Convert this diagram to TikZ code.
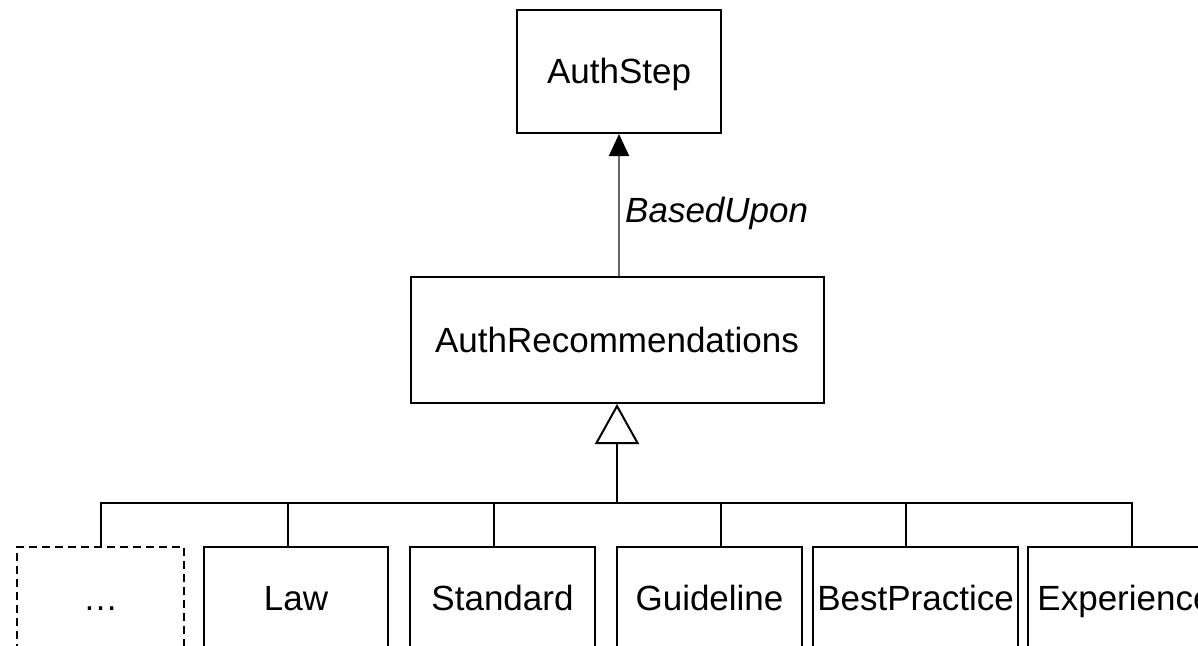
\documentclass[tikz,border=0pt]{standalone}
\usepackage{fontspec}
\setmainfont{Liberation Sans}
\usetikzlibrary{arrows.meta}
\begin{document}
\begin{tikzpicture}[x=1pt,y=-1pt,
  cls/.style={draw, line width=2pt, inner sep=0pt,
    font=\fontsize{35}{42}\selectfont, text height=26pt, text depth=2pt},
  sub/.style={cls, minimum height=102pt},
  link/.style={line width=2pt, line cap=rect}]
\clip (0,0) rectangle (1198,645);
\fill[white] (0,0) rectangle (1198,645);

% classes
\node[cls, minimum width=204pt, minimum height=123pt] (step) at (619,71.5) {AuthStep};
\node[cls, minimum width=413pt, minimum height=126pt] (rec) at (617,340) {AuthRecommendations};

% association
\node[inner sep=0pt, anchor=west, font=\fontsize{35}{42}\selectfont\itshape,
  text height=26pt, text depth=2pt] (lbl) at (625,210) {BasedUpon};
\draw[line width=2pt, black!60, -{Triangle[length=22pt,width=20pt,black]}]
  (rec.north -| step.south) -- (step.south);

% subclasses
\node[sub, dashed, dash pattern=on 8pt off 5pt, minimum width=167pt] (more) at (100.5,598) {\ldots};
\node[sub, minimum width=184pt] (law) at (296,598) {Law};
\node[sub, minimum width=185pt] (std) at (502.5,598) {Standard};
\node[sub, minimum width=185pt] (guide) at (709.5,598) {Guideline};
\node[sub, minimum width=205pt] (best) at (915.5,598) {BestPractice};
\node[sub, minimum width=195pt] (exp) at (1125,598) {Experience};

% generalization tree
\coordinate (bus) at (617,503);
\coordinate (b0) at (101,503);
\coordinate (b1) at (288,503);
\coordinate (b2) at (494,503);
\coordinate (b3) at (721,503);
\coordinate (b4) at (906,503);
\coordinate (b5) at (1132,503);
\draw[link] (b0 |- more.north) -- (b0) -- (b5) -- (b5 |- exp.north);
\draw[link] (b1) -- (b1 |- law.north);
\draw[link] (b2) -- (b2 |- std.north);
\draw[link] (b3) -- (b3 |- guide.north);
\draw[link] (b4) -- (b4 |- best.north);
\draw[line width=2pt, -{Triangle[length=40pt,width=44pt,fill=white]}] (bus) -- (rec.south);
\end{tikzpicture}
\end{document}
